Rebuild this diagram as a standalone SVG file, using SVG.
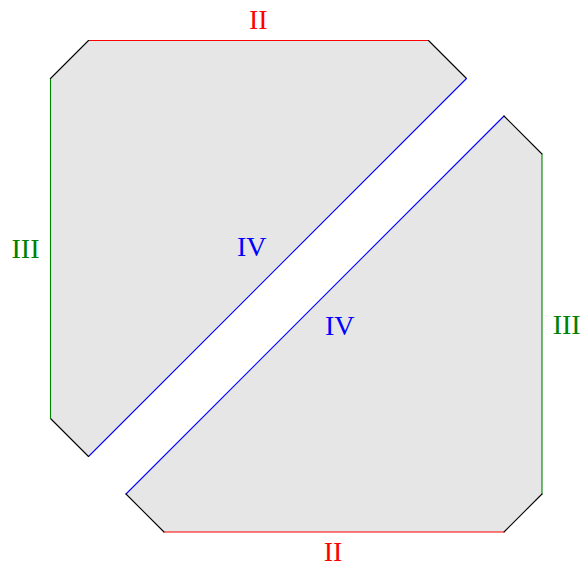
<svg xmlns="http://www.w3.org/2000/svg" width="581" height="567" viewBox="0 0 581 567">
<style>
.face{fill:#e6e6e6;stroke:none}
.e{fill:none;stroke-width:1.1;stroke-linecap:round}
.k{stroke:#000}
.r{stroke:#ff0000}
.g{stroke:#008000}
.b{stroke:#0000ff}
text{font-family:"Liberation Serif","Times New Roman",serif;font-size:28px;text-anchor:middle}
.tr{fill:#ff0000}
.tg{fill:#008000}
.tb{fill:#0000ff}
</style>
<g id="upper">
<polygon class="face" points="88.5,40.5 428.5,40.5 466.5,78.5 88.5,456.5 50.5,418.5 50.5,78.5"/>
</g>
<g id="lower">
<polygon class="face" points="504,116 542,154 542,494 504,532 164,532 126,494"/>
</g>
<g id="edges">
<line class="e r" x1="88.5" y1="40.5" x2="428.5" y2="40.5"/>
<line class="e k" x1="428.5" y1="40.5" x2="466.5" y2="78.5"/>
<line class="e b" x1="466.5" y1="78.5" x2="88.5" y2="456.5"/>
<line class="e k" x1="88.5" y1="456.5" x2="50.5" y2="418.5"/>
<line class="e g" x1="50.5" y1="418.5" x2="50.5" y2="78.5"/>
<line class="e k" x1="50.5" y1="78.5" x2="88.5" y2="40.5"/>
<line class="e b" x1="126" y1="494" x2="504" y2="116"/>
<line class="e k" x1="504" y1="116" x2="542" y2="154"/>
<line class="e g" x1="542" y1="154" x2="542" y2="494"/>
<line class="e k" x1="542" y1="494" x2="504" y2="532"/>
<line class="e r" x1="504" y1="532" x2="164" y2="532"/>
<line class="e k" x1="164" y1="532" x2="126" y2="494"/>
</g>
<g id="labels">
<text class="tr" x="258.3" y="29.3">II</text>
<text class="tg" x="25.5" y="258">III</text>
<text class="tb" x="251.7" y="256">IV</text>
<text class="tb" x="339.7" y="335">IV</text>
<text class="tg" x="566.7" y="334">III</text>
<text class="tr" x="333" y="560.5">II</text>
</g>
</svg>
